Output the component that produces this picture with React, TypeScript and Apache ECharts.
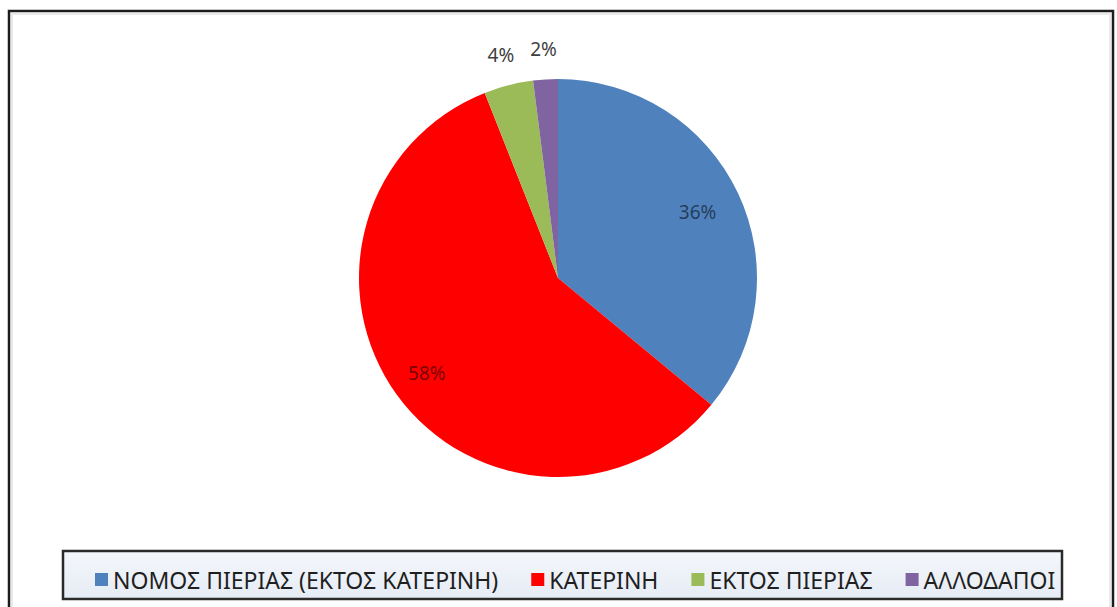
import React, { useEffect, useRef } from "react";
import * as echarts from "echarts";

const categories = [
  "ΝΟΜΟΣ ΠΙΕΡΙΑΣ (ΕΚΤΟΣ ΚΑΤΕΡΙΝΗ)",
  "ΚΑΤΕΡΙΝΗ",
  "ΕΚΤΟΣ ΠΙΕΡΙΑΣ",
  "ΑΛΛΟΔΑΠΟΙ",
];
const values = [36, 58, 4, 2];
const colors = ["#4F81BD", "#FF0000", "#9BBB59", "#8064A2"];
// radial position of each label as a fraction of the radius
const labelRadius = [0.76, 0.8, 1.14, 1.14];

const CX = 558;
const CY = 278;
const R = 199;

export default function App() {
  const ref = useRef<HTMLDivElement>(null);

  useEffect(() => {
    document.body.style.margin = "0";
    const chart = echarts.init(ref.current!, undefined, { renderer: "svg" });
    const total = values.reduce((a, b) => a + b, 0);
    const mids: number[] = [];
    let acc = 0;
    values.forEach((v) => {
      mids.push(((acc + v / 2) / total) * Math.PI * 2);
      acc += v;
    });

    const fontFamily = "'Noto Sans', 'Open Sans', sans-serif";

    chart.setOption({
      animation: false,
      backgroundColor: "#ffffff",
      graphic: [
        {
          type: "rect",
          shape: { x: 9, y: 11, width: 1104, height: 620 },
          style: { fill: "none", stroke: "#1c1c1c", lineWidth: 2.5 },
        },
        {
          type: "rect",
          shape: { x: 12, y: 14, width: 1098, height: 620 },
          style: { fill: "none", stroke: "#e4e4e4", lineWidth: 1.5 },
        },
        {
          type: "rect",
          shape: { x: 63, y: 551, width: 999, height: 48 },
          style: {
            fill: new echarts.graphic.LinearGradient(0, 0, 0, 1, [
              { offset: 0, color: "#f4f7fb" },
              { offset: 1, color: "#e6ecf5" },
            ]),
            stroke: "#2a2a2a",
            lineWidth: 2.5,
          },
          z: 0,
        },
      ],
      legend: {
        data: categories,
        left: 90,
        top: 563,
        itemWidth: 13,
        itemHeight: 13,
        itemGap: 33,
        icon: "rect",
        textStyle: { fontFamily, fontSize: 23, color: "#1f1f1f" },
        z: 5,
      },
      series: [
        {
          type: "pie",
          center: [CX, CY],
          radius: [0, R],
          startAngle: 90,
          clockwise: true,
          color: colors,
          itemStyle: { borderColor: "#ffffff", borderWidth: 0 },
          label: {
            show: true,
            position: "inside",
            formatter: "{d}%",
            fontFamily,
            fontSize: 19,
            color: "rgba(0,0,0,0.55)",
          },
          labelLine: { show: false },
          labelLayout: (p: any) => {
            const i = p.dataIndex;
            const shift = (labelRadius[i] - 0.5) * R;
            return {
              dx: Math.sin(mids[i]) * shift,
              dy: -Math.cos(mids[i]) * shift,
            };
          },
          data: categories.map((name, i) => ({
            name,
            value: values[i],
            label: labelRadius[i] > 1 ? { color: "#404040" } : undefined,
          })),
        },
      ],
    });
    return () => chart.dispose();
  }, []);

  return (
    <div
      ref={ref}
      style={{ position: "absolute", left: 0, top: 0, width: 1117, height: 607 }}
    />
  );
}
